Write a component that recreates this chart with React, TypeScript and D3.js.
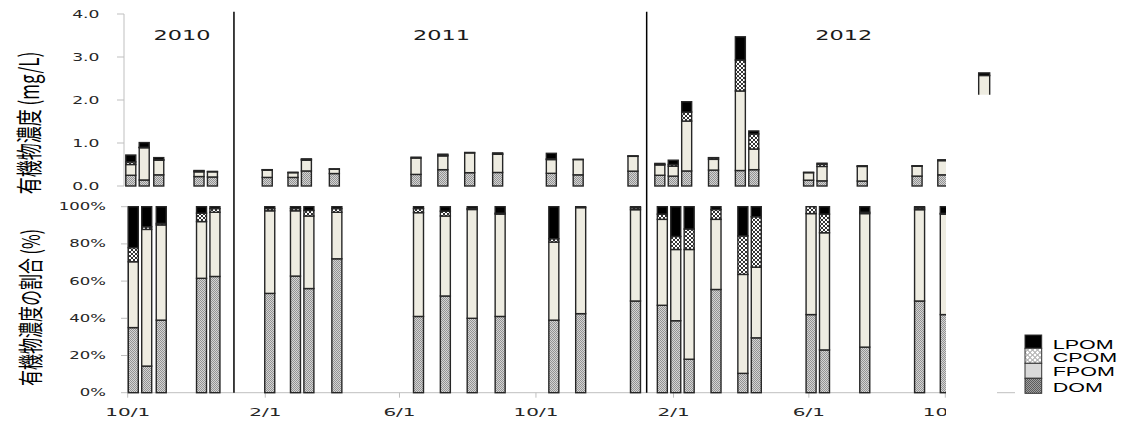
import * as d3 from "d3";

// sampling dates (one bar per sample)
const sampleDates = [
  "2010-10-06", "2010-10-18", "2010-10-31", "2010-12-06", "2010-12-18",
  "2011-02-05", "2011-02-28", "2011-03-12", "2011-04-06", "2011-06-18",
  "2011-07-12", "2011-08-05", "2011-08-30", "2011-10-17", "2011-11-10",
  "2011-12-29", "2012-01-22", "2012-02-03", "2012-02-15", "2012-03-10",
  "2012-04-03", "2012-04-15", "2012-06-03", "2012-06-15", "2012-07-21",
  "2012-09-08", "2012-10-01",
];

// concentration (mg/L)
const domMg = [0.25, 0.14, 0.26, 0.22, 0.21, 0.2, 0.2, 0.35, 0.29, 0.27, 0.38, 0.31, 0.315, 0.295, 0.26, 0.345, 0.25, 0.23, 0.35, 0.37, 0.36, 0.38, 0.135, 0.12, 0.115, 0.23, 0.26];
const fpomMg = [0.25, 0.75, 0.34, 0.11, 0.12, 0.17, 0.11, 0.25, 0.1, 0.38, 0.32, 0.46, 0.425, 0.32, 0.355, 0.345, 0.24, 0.23, 1.16, 0.25, 1.85, 0.48, 0.175, 0.335, 0.34, 0.23, 0.33];
const cpomMg = [0.06, 0.01, 0.01, 0.02, 0.01, 0.005, 0.01, 0.02, 0.01, 0.02, 0.02, 0, 0.005, 0.015, 0, 0.005, 0.015, 0.04, 0.21, 0.035, 0.72, 0.35, 0.01, 0.055, 0.005, 0.005, 0];
const lpomMg = [0.16, 0.11, 0.05, 0.01, 0, 0.005, 0, 0.01, 0, 0, 0.02, 0.01, 0.025, 0.13, 0.005, 0.005, 0.02, 0.1, 0.24, 0.005, 0.54, 0.07, 0, 0.02, 0.01, 0.005, 0.02];

// share of concentration (%)
const domPct = [35, 14.3, 39, 61.5, 62.5, 53.4, 62.7, 56, 72, 41, 52, 40, 41, 39, 42.5, 49.3, 47, 38.7, 18, 55.5, 10.4, 29.5, 42, 23, 24.5, 49.3, 42];
const fpomPct = [35.4, 73.5, 51.2, 30.5, 34.5, 44.4, 35.1, 39, 25, 55.8, 43, 58.5, 55, 42, 57, 49.1, 46.2, 38.3, 59, 37.7, 53.2, 38, 54.3, 63, 71.8, 49.1, 54];
const cpomPct = [7.6, 1.4, 0.8, 4.5, 2, 1.2, 1.2, 3, 2, 2.2, 2.6, 0.5, 0.5, 1.8, 0, 1, 2.8, 7, 11, 5.3, 20.7, 27.1, 3.7, 10, 0.7, 0.9, 0.4];
const lpomPct = [22, 10.8, 9, 3.5, 1, 1, 1, 2, 1, 1, 2.4, 1, 3.5, 17.2, 0.5, 0.6, 4, 16, 12, 1.5, 15.7, 5.4, 0, 4, 3, 0.7, 3.6];

const keys = ["DOM", "FPOM", "CPOM", "LPOM"];
const legendKeys = ["LPOM", "CPOM", "FPOM", "DOM"];
const topTicks = [0, 1, 2, 3, 4];
const pctTicks = [0, 20, 40, 60, 80, 100];
const monthTicks = ["2010-10-01", "2011-02-01", "2011-06-01", "2011-10-01", "2012-02-01", "2012-06-01", "2012-10-01"];
const yearLabels = ["2010", "2011", "2012"];
const yearDividers = ["2011-01-04", "2012-01-08"];

// stray bar partly visible at the right (cut off)
const strayDate = "2012-11-07";
const strayTotal = 2.63;
const strayLpom = 0.06;

const parse = d3.timeParse("%Y-%m-%d");
const fmt = d3.timeFormat("%-m/%-d");

const fills: Record<string, string> = {
  DOM: "url(#domPat)",
  FPOM: "#eeece1",
  CPOM: "url(#cpomPat)",
  LPOM: "#000",
};
const legendFills: Record<string, string> = {
  DOM: "url(#domLegPat)",
  FPOM: "#d9d9d9",
  CPOM: "url(#cpomLegPat)",
  LPOM: "#000",
};

function SText({ x, y, sx, anchor, size, family, children, fill = "#262626" }: any) {
  return (
    <text
      transform={`translate(${x},${y}) scale(${sx},1)`}
      textAnchor={anchor}
      dy="0.35em"
      fontSize={size}
      fontFamily={family}
      fill={fill}
    >
      {children}
    </text>
  );
}

export default function App() {
  const width = 1129;
  const height = 421;
  const dates = sampleDates.map((d) => parse(d) as Date);

  const domain = [parse("2010-10-01") as Date, parse("2012-10-01") as Date];
  const xBot = d3.scaleTime().domain(domain).range([127.7, 945.3]);
  const xTop = d3.scaleTime().domain(domain).range([125.2, 942.8]);
  const yTop = d3.scaleLinear().domain([0, 4]).range([186, 14]);
  const yBot = d3.scaleLinear().domain([0, 100]).range([392.7, 206.7]);

  const mgRows = dates.map((date, i) => ({ date, DOM: domMg[i], FPOM: fpomMg[i], CPOM: cpomMg[i], LPOM: lpomMg[i] }));
  const pctRows = dates.map((date, i) => ({ date, DOM: domPct[i], FPOM: fpomPct[i], CPOM: cpomPct[i], LPOM: lpomPct[i] }));
  const stack = d3.stack<any>().keys(keys);
  const mgStack = stack(mgRows);
  const pctStack = stack(pctRows);

  const barW = 10;
  const dejavu = "DejaVu Sans, Verdana, sans-serif";
  const arial = "Liberation Sans, Arial, sans-serif";
  const cjk = "'Noto Sans CJK JP', sans-serif";

  const strayX = xTop(parse(strayDate) as Date);

  return (
    <svg width={width} height={height} style={{ position: "absolute", left: 0, top: 0, background: "#fff" }}>
      <defs>
        <pattern id="domPat" width={2} height={2} patternUnits="userSpaceOnUse">
          <rect width={2} height={2} fill="#d4d4d4" />
          <rect width={1} height={1} fill="#939393" />
          <rect x={1} y={1} width={1} height={1} fill="#939393" />
        </pattern>
        <pattern id="cpomPat" width={4} height={4} patternUnits="userSpaceOnUse">
          <rect width={4} height={4} fill="#fff" />
          <path d="M0,2 L2,0 L4,2 L2,4 Z" fill="none" stroke="#000" strokeWidth={0.8} />
        </pattern>
        <pattern id="domLegPat" width={2} height={2} patternUnits="userSpaceOnUse">
          <rect width={2} height={2} fill="#a0a0a0" />
          <rect width={1} height={1} fill="#5a5a5a" />
          <rect x={1} y={1} width={1} height={1} fill="#5a5a5a" />
        </pattern>
        <pattern id="cpomLegPat" width={5} height={5} patternUnits="userSpaceOnUse">
          <rect width={5} height={5} fill="#fff" />
          <circle cx={2.5} cy={2.5} r={2} fill="none" stroke="#8c8c8c" strokeWidth={0.8} />
        </pattern>
        <clipPath id="plotClip">
          <rect x={0} y={0} width={946} height={height} />
        </clipPath>
        <clipPath id="strayClip">
          <rect x={0} y={0} width={width} height={yTop(2.12)} />
        </clipPath>
      </defs>

      {/* y axis titles */}
      <text
        transform={`translate(30,123) scale(1.55,1) rotate(-90)`}
        textAnchor="middle"
        dy="0.35em"
        fontSize={17}
        fontFamily={cjk}
        fill="#000"
      >
        有機物濃度 (mg/L)
      </text>
      <text
        transform={`translate(31.5,307.5) scale(1.55,1) rotate(-90)`}
        textAnchor="middle"
        dy="0.35em"
        fontSize={16}
        fontFamily={cjk}
        fill="#000"
      >
        有機物濃度の割合 (%)
      </text>

      {/* top y axis */}
      <line x1={124} x2={124} y1={yTop(4)} y2={yTop(0)} stroke="#bfbfbf" />
      {topTicks.map((t) => (
        <g key={t}>
          <line x1={117} x2={124} y1={yTop(t)} y2={yTop(t)} stroke="#bfbfbf" />
          <SText x={99.5} y={yTop(t)} sx={1.72} anchor="end" size={10} family={dejavu}>
            {t.toFixed(1)}
          </SText>
        </g>
      ))}

      {/* bottom y axis */}
      <line x1={127.7} x2={127.7} y1={yBot(100)} y2={yBot(0)} stroke="#bfbfbf" />
      {pctTicks.map((t) => (
        <g key={t}>
          <line x1={121} x2={127.7} y1={yBot(t)} y2={yBot(t)} stroke="#bfbfbf" />
          <SText x={106} y={yBot(t)} sx={1.65} anchor="end" size={10} family={dejavu}>
            {t}%
          </SText>
        </g>
      ))}

      <g clipPath="url(#plotClip)">
        {/* bottom x axis */}
        <line x1={127.7} x2={xBot.range()[1] + 5} y1={yBot(0)} y2={yBot(0)} stroke="#bfbfbf" />
        {monthTicks.map((m) => {
          const d = parse(m) as Date;
          return (
            <g key={m}>
              <line x1={xBot(d)} x2={xBot(d)} y1={yBot(0)} y2={yBot(0) + 5} stroke="#bfbfbf" />
              <SText x={xBot(d)} y={412} sx={1.82} anchor="middle" size={11} family={dejavu}>
                {fmt(d)}
              </SText>
            </g>
          );
        })}

        {/* top panel bars */}
        {mgStack.map((layer) =>
          layer.map((seg, i) => {
            const h = yTop(seg[0]) - yTop(seg[1]);
            if (h <= 0) return null;
            return (
              <rect
                key={`t-${layer.key}-${i}`}
                x={xTop(dates[i]) - barW / 2}
                y={yTop(seg[1])}
                width={barW}
                height={h}
                fill={fills[layer.key]}
                stroke="#262626"
                strokeWidth={1.4}
              />
            );
          })
        )}

        {/* bottom panel bars */}
        {pctStack.map((layer) =>
          layer.map((seg, i) => {
            const h = yBot(seg[0]) - yBot(seg[1]);
            if (h <= 0) return null;
            return (
              <rect
                key={`b-${layer.key}-${i}`}
                x={xBot(dates[i]) - barW / 2}
                y={yBot(seg[1])}
                width={barW}
                height={h}
                fill={fills[layer.key]}
                stroke="#262626"
                strokeWidth={1.4}
              />
            );
          })
        )}
      </g>

      {/* year dividers */}
      {yearDividers.map((d) => {
        const x = xBot(parse(d) as Date);
        return <line key={d} x1={x} x2={x} y1={yTop(4.05)} y2={yBot(0)} stroke="#000" strokeWidth={1.5} />;
      })}

      {/* year labels */}
      {yearLabels.map((label, i) => (
        <SText key={label} x={[182, 441.5, 843.7][i]} y={35.5} sx={1.6} anchor="middle" size={14} family={dejavu} fill="#1a1a1a">
          {label}
        </SText>
      ))}

      {/* stray cut-off bar */}
      <g clipPath="url(#strayClip)">
        <rect
          x={strayX - 5.5}
          y={yTop(strayTotal - strayLpom)}
          width={11}
          height={yTop(0) - yTop(strayTotal - strayLpom)}
          fill="#eeece1"
          stroke="#262626"
          strokeWidth={1.4}
        />
        <rect
          x={strayX - 5.5}
          y={yTop(strayTotal)}
          width={11}
          height={yTop(strayTotal - strayLpom) - yTop(strayTotal)}
          fill="#000"
          stroke="#262626"
          strokeWidth={1.4}
        />
      </g>
      <line x1={997} x2={1015} y1={yBot(0)} y2={yBot(0)} stroke="#bfbfbf" />

      {/* legend */}
      {legendKeys.map((k, i) => {
        const ys = [335, 348.3, 363.3, 378.3, 393.3];
        const ty = [344.5, 358, 372, 387.7];
        return (
          <g key={k}>
            <rect x={1025} y={ys[i]} width={16.7} height={ys[i + 1] - ys[i]} fill={legendFills[k]} stroke="#333" strokeWidth={1} />
            <SText x={1052.7} y={ty[i]} sx={1.72} anchor="start" size={12.5} family={arial} fill="#000">
              {k}
            </SText>
          </g>
        );
      })}
    </svg>
  );
}
